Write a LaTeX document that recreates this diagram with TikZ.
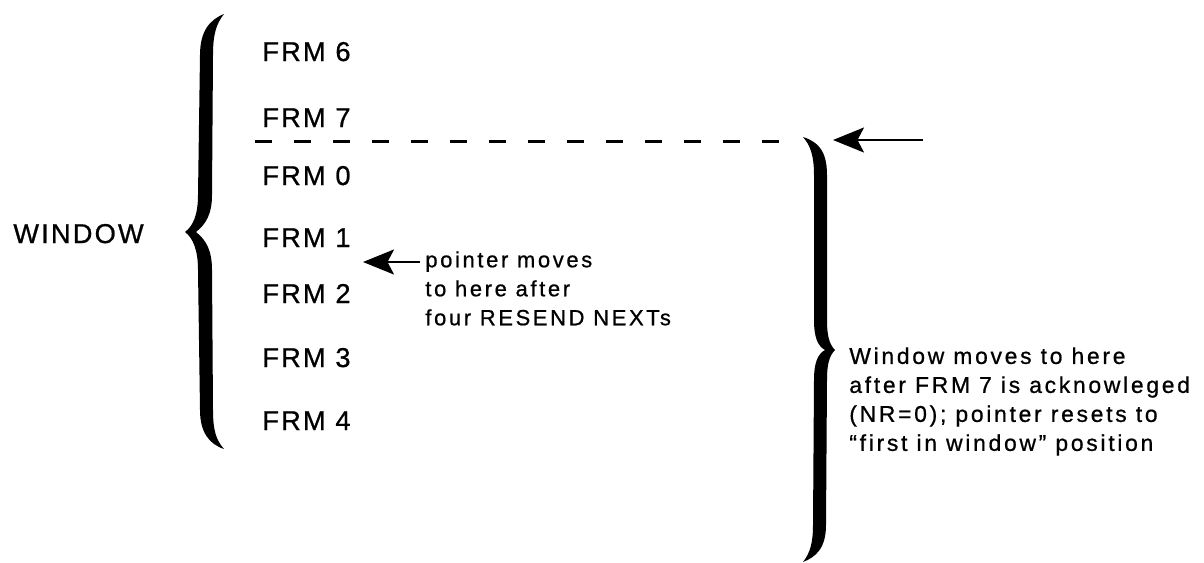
\documentclass[tikz,border=0pt]{standalone}
\usepackage{fontspec}
\usetikzlibrary{arrows.meta}
\newfontfamily\frmfont[LetterSpace=8,FakeBold=0.8]{Liberation Sans}
\newfontfamily\notefont[LetterSpace=12,FakeBold=0.8]{Liberation Sans}
\tikzset{
  frm/.style={anchor=base west,inner sep=0pt,font=\frmfont\fontsize{15.5}{18}\selectfont},
  note/.style={anchor=north west,inner sep=0pt,align=left,font=\notefont\fontsize{12.5}{16.5}\selectfont},
  ptr/.style={-{Stealth[length=0.62cm,width=0.5cm,inset=0.13cm]},line width=0.045cm},
  bracefill/.style={fill=black,draw=none}
}
\begin{document}
\begin{tikzpicture}[x=0.02cm,y=-0.02cm]
   \useasboundingbox (0,0) rectangle (1204,562);

   % window label and frame list
   \node[frm] (window) at (13,243) {WINDOW};
   \foreach \n/\y in {6/61,7/127,0/185,1/247,2/303,3/367,4/430}
     \node[frm] (frm\n) at (262,\y) {FRM \n};

   % left brace
   \fill[bracefill] (224,14) .. controls (209,20) and (200,32) .. (200,55)
     -- (198,195) .. controls (198,215) and (193,226) .. (185,232)
     .. controls (193,238) and (198,250) .. (198,270)
     -- (200,410) .. controls (200,432) and (209,444) .. (224,449)
     .. controls (216,440) and (213,430) .. (213,410)
     -- (212,270) .. controls (212,250) and (206,240) .. (196,232)
     .. controls (206,224) and (212,214) .. (212,195)
     -- (213,55) .. controls (213,35) and (216,24) .. (224,14) -- cycle;

   % right brace
   \fill[bracefill] (803,137) .. controls (819,142) and (827,152) .. (827,175)
     -- (827,320) .. controls (827,335) and (829,344) .. (835,350)
     .. controls (829,356) and (827,365) .. (827,380)
     -- (826,525) .. controls (826,548) and (816,557) .. (803,562)
     .. controls (810,553) and (813,543) .. (813,525)
     -- (814,380) .. controls (814,362) and (818,354) .. (825,350)
     .. controls (818,346) and (814,338) .. (814,320)
     -- (814,175) .. controls (814,155) and (810,145) .. (803,137) -- cycle;

   % dashed window edge
   \coordinate (dashL) at (255,141);
   \coordinate (dashR) at (779,141);
   \draw[line width=0.06cm,dash pattern=on 0.34cm off 0.44cm] (dashL) -- (dashR);

   % arrows
   \coordinate (newtop) at (833,140);
   \coordinate (newtail) at (923,140);
   \draw[ptr] (newtail) -- (newtop);

   \node[note] (ptrnote) at (425,251) {pointer moves\\to here after\\four RESEND NEXTs};
   \coordinate (ptrtip) at (363,262);
   \draw[ptr] (ptrnote.west |- ptrtip) ++(-5,0) coordinate (ptrtail) -- (ptrtip);

   \node[note,font=\notefont\fontsize{13}{16.5}\selectfont] (winnote) at (849,347)
     {Window moves to here\\after FRM 7 is acknowleged\\(NR=0); pointer resets to\\“first in window” position};
\end{tikzpicture}
\end{document}
